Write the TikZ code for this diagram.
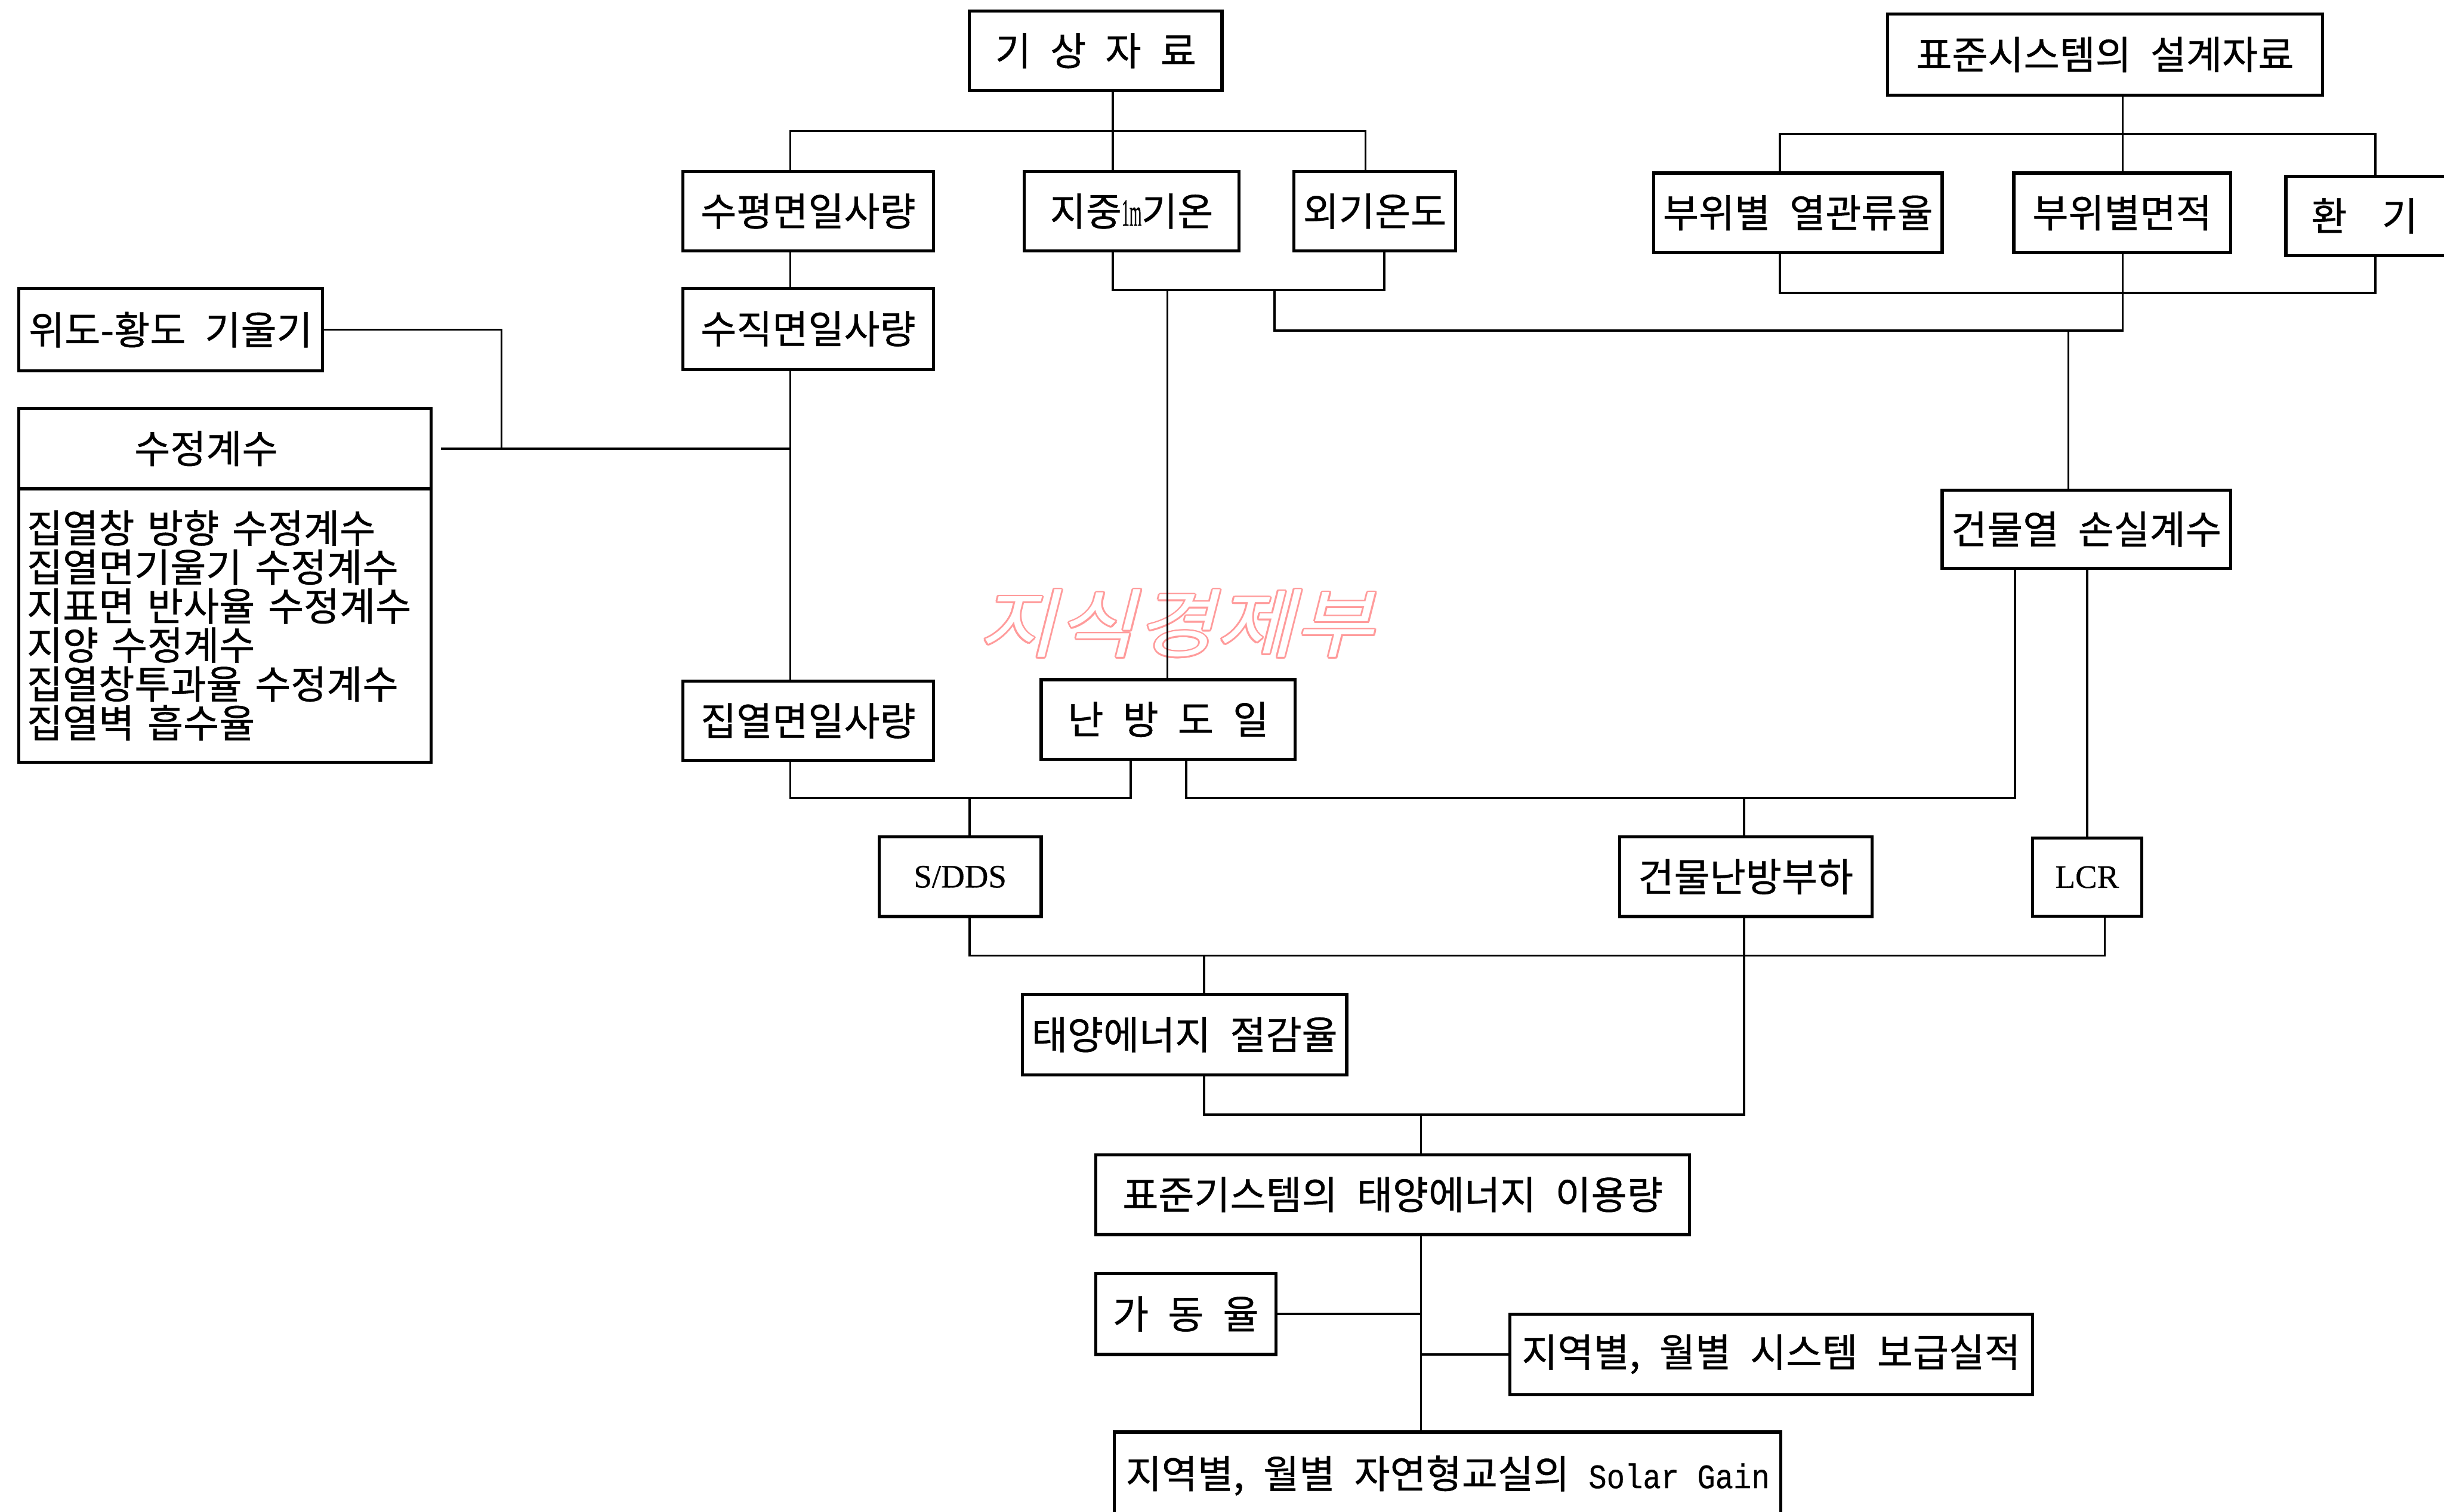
\documentclass[tikz,border=0pt]{standalone}
\usepackage{fontspec}
\setmainfont{Noto Sans CJK KR}[WordSpace=2.2, FakeBold=0.7]
\newfontfamily\serifL{Liberation Serif}[FakeBold=0.5]
\newfontfamily\monoL{Liberation Mono}[FakeBold=0.4]
\newfontfamily\wmfont{Noto Sans CJK KR}
\definecolor{wmpink}{RGB}{255,155,155}
\begin{document}
\begin{tikzpicture}[x=1pt,y=-1pt,
  box/.style={draw, line width=2pt, inner sep=0pt, font=\fontsize{25}{25}\selectfont},
  conn/.style={line width=1.4pt},
  wmark/.style={xscale=1.15, xslant=0.22, transform shape, text=wmpink, font=\wmfont\fontsize{48}{48}\selectfont}]
\useasboundingbox (0,0) rectangle (1568,970);
% watermark (outlined)
\foreach \a in {0,30,...,330}
  \node[wmark] at ([shift={(\a:1.1)}]759,400) {지식경제부};
\node[wmark, text=white] (wm) at (759,400) {지식경제부};
% boxes
\node[box, minimum width=162, minimum height=51] (wx) at (703,32.5) {기 상 자 료};
\node[box, minimum width=279, minimum height=52] (sd) at (1350.5,35) {표준시스템의 설계자료};
\node[box, minimum width=161, minimum height=51] (hz) at (518.5,135.5) {수평면일사량};
\node[box, minimum width=138, minimum height=51] (gt) at (726,135.5) {지중{\serifL\fontsize{25}{25}\selectfont\scalebox{0.4}[1]{1m}}기온};
\node[box, minimum width=104, minimum height=51] (ot) at (882,135.5) {외기온도};
\node[box, minimum width=185, minimum height=51] (hu) at (1153.5,136.5) {부위별 열관류율};
\node[box, minimum width=130, minimum height=51] (vt) at (1531.5,138.5) {환\hspace{0.9em}기\kern29pt};
\node[box, minimum width=139, minimum height=51] (ar) at (1361.5,136.5) {부위별면적};
\node[box, minimum width=161, minimum height=52] (vs) at (518.5,211) {수직면일사량};
\node[box, minimum width=195, minimum height=53] (lat) at (109.5,211.5) {위도-황도 기울기};
\node[box, minimum width=264.5, minimum height=51.5] (cfh) at (144.25,287.75) {수정계수\kern24pt};
\node[box, minimum width=264.5, minimum height=175.5, text width=254, align=left] (cfb) at (144.25,401.25)
  {집열창 방향 수정계수\\집열면기울기 수정계수\\지표면 반사율 수정계수\\지양 수정계수\\집열창투과율 수정계수\\집열벽 흡수율};
\node[box, minimum width=161, minimum height=51] (sc) at (518.5,462.5) {집열면일사량};
\node[box, minimum width=163, minimum height=51] (hdd) at (749.5,461.5) {난 방 도 일};
\node[box, minimum width=185, minimum height=50] (hl) at (1338.5,339.5) {건물열 손실계수};
\node[box, minimum width=104, minimum height=51] (sdds) at (616,562.5) {\serifL\fontsize{21}{22}\selectfont S/DDS};
\node[box, minimum width=162, minimum height=51] (bhl) at (1120,562.5) {건물난방부하};
\node[box, minimum width=70, minimum height=50] (lcr) at (1339,562.75) {\serifL\fontsize{21}{22}\selectfont LCR};
\node[box, minimum width=208, minimum height=51.6] (ses) at (760,663.8) {태양에너지 절감율};
\node[box, minimum width=381, minimum height=51.2] (sse) at (893.5,766.4) {표준기스템의 태양에너지 이용량};
\node[box, minimum width=115.6, minimum height=52] (op) at (760.8,843) {가 동 율};
\node[box, minimum width=335.4, minimum height=51.7] (rs) at (1136.3,868.85) {지역별, 월별 시스템 보급실적};
\node[box, minimum width=427.6, minimum height=56] (sg) at (928.8,946.7) {지역별, 월별 자연형교실의 {\monoL\fontsize{22}{22}\selectfont\scalebox{0.88}[1]{Solar Gain}}};
% connectors
\coordinate (a0) at (714,84); \coordinate (aL) at (507,84); \coordinate (aR) at (876,84);
\draw[conn] (wx.south -| a0) -- (gt.north -| a0);
\draw[conn] (hz.north -| aL) -- (aL) -- (aR) -- (ot.north -| aR);
\draw[conn] (hz.south -| aL) -- (vs.north -| aL);
\coordinate (bL) at (714,186); \coordinate (bR) at (888,186);
\draw[conn] (gt.south -| bL) -- (bL) -- (bR) -- (ot.south -| bR);
\coordinate (c0) at (749,186);
\draw[conn] (c0) -- (hdd.north -| c0);
\coordinate (d0) at (817.6,186); \coordinate (d1) at (817.6,212); \coordinate (d2) at (1361.8,212);
\draw[conn] (d0) -- (d1) -- (d2) -- (ar.south -| d2);
\coordinate (e0) at (1361.8,86); \coordinate (eL) at (1142,86); \coordinate (eR) at (1524,86);
\draw[conn] (sd.south -| e0) -- (ar.north -| e0);
\draw[conn] (hu.north -| eL) -- (eL) -- (eR) -- (vt.north -| eR);
\coordinate (fL) at (1142,188); \coordinate (fR) at (1524,188);
\draw[conn] (hu.south -| fL) -- (fL) -- (fR) -- (vt.south -| fR);
\coordinate (g0) at (1327,212);
\draw[conn] (g0) -- (hl.north -| g0);
\coordinate (h0) at (321.7,211.5); \coordinate (h1) at (321.7,287.75); \coordinate (h2) at (507,287.75);
\draw[conn] (lat.east) -- (h0) -- (h1);
\draw[conn] ([xshift=5.5pt]cfh.east) -- (h2);
\draw[conn] (vs.south -| h2) -- (sc.north -| h2);
\coordinate (jL) at (507,512); \coordinate (jR) at (725.5,512); \coordinate (j0) at (622,512);
\draw[conn] (sc.south -| jL) -- (jL) -- (jR) -- (hdd.south -| jR);
\draw[conn] (j0) -- (sdds.north -| j0);
\coordinate (kL) at (761,512); \coordinate (kR) at (1292.7,512); \coordinate (k0) at (1119,512);
\draw[conn] (hdd.south -| kL) -- (kL) -- (kR) -- (hl.south -| kR);
\draw[conn] (k0) -- (bhl.north -| k0);
\draw[conn] (hl.south -| lcr.north) -- (lcr.north);
\coordinate (mL) at (622,613); \coordinate (mR) at (1350.4,613); \coordinate (m0) at (772.6,613);
\draw[conn] (sdds.south -| mL) -- (mL) -- (mR) -- (lcr.south -| mR);
\draw[conn] (m0) -- (ses.north -| m0);
\coordinate (nL) at (772.6,715); \coordinate (nR) at (1119,715); \coordinate (n0) at (911.7,715);
\draw[conn] (bhl.south -| nR) -- (nR) -- (nL) -- (ses.south -| nL);
\draw[conn] (n0) -- (sse.north -| n0);
\draw[conn] (sse.south -| n0) -- (sg.north -| n0);
\draw[conn] (op.east) -- (op.east -| n0);
\draw[conn] (rs.west -| n0) -- (rs.west);
\end{tikzpicture}
\end{document}
